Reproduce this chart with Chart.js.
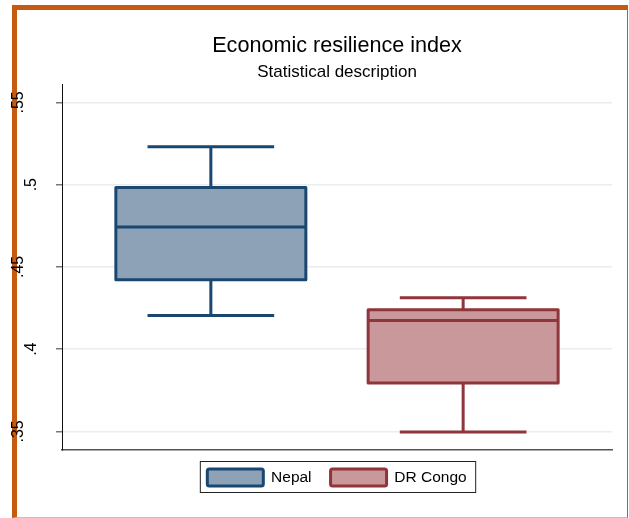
<!DOCTYPE html>
<html>
<head>
<meta charset="utf-8">
<title>Economic resilience index</title>
<script src="https://cdn.jsdelivr.net/npm/chart.js@4.4.1/dist/chart.umd.min.js"></script>
<style>
  body { margin: 0; background: #fff; }
  #frame {
    position: absolute; left: 12px; top: 5px; width: 610px; height: 507px;
    border-left: 5px solid #c55a11; border-top: 5px solid #c55a11;
    border-right: 1px solid #c55a11; border-bottom: 1px solid #dcb89c;
  }
  #wrap { position: absolute; left: 0; top: 0; width: 629px; height: 518px; }
</style>
</head>
<body>
<div id="frame"></div>
<div id="wrap"><canvas id="myChart"></canvas></div>
<script>
  // box plot values
  const countries = ['Nepal', 'DR Congo']
  const positions = [1, 2]
  const lowerWhisker = [0.4204, 0.3497]
  const lowerQuartile = [0.4422, 0.3794]
  const medians = [0.4743, 0.4174]
  const upperQuartile = [0.4983, 0.4239]
  const upperWhisker = [0.5230, 0.4312]

  const yTicks = [0.35, 0.4, 0.45, 0.5, 0.55]
  const yTickLabels = ['.35', '.4', '.45', '.5', '.55']

  const lineColors = ['#1a476f', '#90353b']
  const fillColors = ['#8ea2b7', '#c8989b']

  Chart.defaults.font.family = "'Liberation Sans', Arial, sans-serif"
  Chart.defaults.color = '#000'

  // whiskers, median and box outline (stroked centred on the values, like Stata)
  const boxWhiskers = {
    id: 'boxWhiskers',
    afterDatasetsDraw(chart) {
      const { ctx, scales: { y } } = chart
      chart.data.datasets.forEach((ds, i) => {
        const bar = chart.getDatasetMeta(i).data[0]
        const half = bar.width / 2
        const cap = bar.width / 3
        const x = bar.x
        const yLo = y.getPixelForValue(lowerWhisker[i])
        const yQ1 = y.getPixelForValue(lowerQuartile[i])
        const yMed = y.getPixelForValue(medians[i])
        const yQ3 = y.getPixelForValue(upperQuartile[i])
        const yHi = y.getPixelForValue(upperWhisker[i])
        ctx.save()
        ctx.strokeStyle = lineColors[i]
        ctx.lineWidth = 3
        ctx.lineJoin = 'round'
        ctx.beginPath()
        ctx.moveTo(x, yHi); ctx.lineTo(x, yQ3)
        ctx.moveTo(x, yQ1); ctx.lineTo(x, yLo)
        ctx.moveTo(x - cap, yHi); ctx.lineTo(x + cap, yHi)
        ctx.moveTo(x - cap, yLo); ctx.lineTo(x + cap, yLo)
        ctx.moveTo(x - half, yMed); ctx.lineTo(x + half, yMed)
        ctx.stroke()
        ctx.strokeRect(x - half, yQ3, bar.width, yQ1 - yQ3)
        ctx.restore()
      })
    }
  }

  // frame around the legend
  const legendFrame = {
    id: 'legendFrame',
    afterDraw(chart) {
      const boxes = chart.legend.legendHitBoxes
      if (!boxes || !boxes.length) return
      const first = boxes[0]
      const last = boxes[boxes.length - 1]
      const { ctx } = chart
      const left = first.left - 7
      ctx.save()
      ctx.strokeStyle = '#222'
      ctx.lineWidth = 1
      ctx.strokeRect(left, first.top - 7.5, last.left + last.width + 9 - left, first.height + 14)
      ctx.restore()
    }
  }

  const ctx = document.getElementById('myChart')

  // eslint-disable-next-line no-unused-vars
  const myChart = new Chart(ctx, {
    type: 'bar',
    plugins: [boxWhiskers, legendFrame],
    data: {
      datasets: countries.map((name, i) => ({
        label: name,
        data: [{ x: positions[i], y: [lowerQuartile[i], upperQuartile[i]] }],
        backgroundColor: fillColors[i],
        borderColor: lineColors[i],
        borderWidth: 0,
        barThickness: 190,
        grouped: false,
      }))
    },
    options: {
      responsive: true,
      maintainAspectRatio: false,
      animation: false,
      layout: {
        padding: { left: 0, right: 17, top: 10, bottom: 22 }
      },
      plugins: {
        title: {
          display: true,
          text: 'Economic resilience index',
          fullSize: false,
          color: '#000',
          font: { size: 21.6, weight: 'normal' },
          padding: { top: 22.6, bottom: 0 },
        },
        subtitle: {
          display: true,
          text: 'Statistical description',
          fullSize: false,
          color: '#000',
          font: { size: 17, weight: 'normal' },
          padding: { top: 3.8, bottom: 1.6 },
        },
        legend: {
          position: 'bottom',
          fullSize: false,
          labels: {
            boxWidth: 56,
            boxHeight: 17,
            padding: 19,
            useBorderRadius: true,
            borderRadius: 2,
            color: '#000',
            font: { size: 15.5 },
            generateLabels: (chart) => Chart.defaults.plugins.legend.labels.generateLabels(chart)
              .map((item) => Object.assign(item, { lineWidth: 3 })),
          },
        },
        tooltip: { enabled: false },
      },
      scales: {
        x: {
          type: 'linear',
          offset: false,
          min: 0.41,
          max: 2.59,
          ticks: { display: false },
          grid: { display: false, drawTicks: false },
          border: { color: '#555', width: 1.5 },
          afterFit: (s) => { s.height = 0 },
        },
        y: {
          min: 0.3387,
          max: 0.561,
          afterBuildTicks: (s) => { s.ticks = yTicks.map((v) => ({ value: v })) },
          afterFit: (s) => { s.width = 62 },
          ticks: {
            minRotation: 90,
            maxRotation: 90,
            crossAlign: 'center',
            padding: 20,
            color: '#000',
            font: { size: 16, lineHeight: 0.83 },
            // Stata puts the 2-character labels a bit to the right
            callback: (v, i) => {
              const label = yTickLabels[i]
              return label.length > 2 ? [label, ''] : ['', label]
            },
          },
          grid: {
            color: '#e8eef0',
            lineWidth: 1.5,
            tickColor: '#777',
            tickLength: 6,
            tickWidth: 1.5,
          },
          border: { color: '#111', width: 1 },
        },
      },
    }
  })
</script>
</body>
</html>
